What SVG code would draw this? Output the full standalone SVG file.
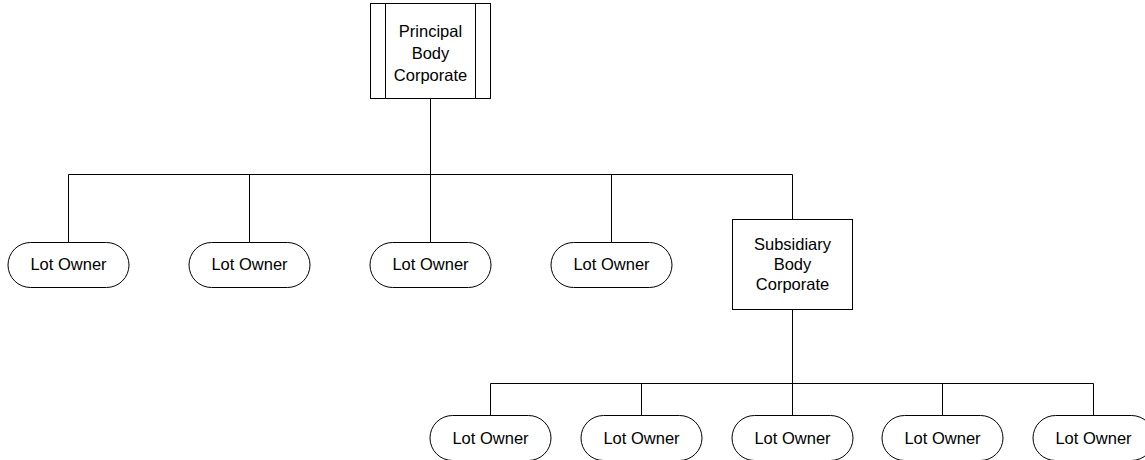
<svg xmlns="http://www.w3.org/2000/svg" width="1145" height="460" viewBox="0 0 1145 460">
<style>
.box{fill:#fff;stroke:#000;stroke-width:1}
.pill{fill:#fff;stroke:#000;stroke-width:1}
.conn{fill:none;stroke:#000;stroke-width:1}
text{font-family:"Liberation Sans",Arial,sans-serif;font-size:16.5px;fill:#000;text-anchor:middle}
</style>
<rect width="1145" height="460" fill="#fff"/>
<g id="connectors">
<path class="conn" d="M430.5 98 V174.5 M68.5 174.5 H792.5 M68.5 174.5 V242 M249.5 174.5 V242 M430.5 174.5 V242 M611.5 174.5 V242 M792.5 174.5 V219"/>
<path class="conn" d="M792.5 309 V383.5 M490.5 383.5 H1093.5 M490.5 383.5 V415 M641.5 383.5 V415 M792.5 383.5 V415 M942.5 383.5 V415 M1093.5 383.5 V415"/>
</g>
<g id="principal">
<rect class="box" x="370.5" y="3.5" width="120" height="95"/>
<path class="conn" d="M385.5 3.5 V98.5 M475.5 3.5 V98.5"/>
<text x="430.5" y="37">Principal</text>
<text x="430.5" y="59">Body</text>
<text x="430.5" y="81">Corporate</text>
</g>
<g id="lot1"><rect class="pill" x="8" y="242.5" width="121" height="45" rx="22.5"/><text x="68.5" y="270">Lot Owner</text></g>
<g id="lot2"><rect class="pill" x="189" y="242.5" width="121" height="45" rx="22.5"/><text x="249.5" y="270">Lot Owner</text></g>
<g id="lot3"><rect class="pill" x="370" y="242.5" width="121" height="45" rx="22.5"/><text x="430.5" y="270">Lot Owner</text></g>
<g id="lot4"><rect class="pill" x="551" y="242.5" width="121" height="45" rx="22.5"/><text x="611.5" y="270">Lot Owner</text></g>
<g id="subsidiary">
<rect class="box" x="732.5" y="219.5" width="120" height="90"/>
<text x="792.5" y="250">Subsidiary</text>
<text x="792.5" y="270">Body</text>
<text x="792.5" y="290">Corporate</text>
</g>
<g id="lot5"><rect class="pill" x="430" y="415.5" width="121" height="45" rx="22.5"/><text x="490.5" y="444">Lot Owner</text></g>
<g id="lot6"><rect class="pill" x="581" y="415.5" width="121" height="45" rx="22.5"/><text x="641.5" y="444">Lot Owner</text></g>
<g id="lot7"><rect class="pill" x="732" y="415.5" width="121" height="45" rx="22.5"/><text x="792.5" y="444">Lot Owner</text></g>
<g id="lot8"><rect class="pill" x="882" y="415.5" width="121" height="45" rx="22.5"/><text x="942.5" y="444">Lot Owner</text></g>
<g id="lot9"><rect class="pill" x="1033" y="415.5" width="121" height="45" rx="22.5"/><text x="1093.5" y="444">Lot Owner</text></g>
</svg>
